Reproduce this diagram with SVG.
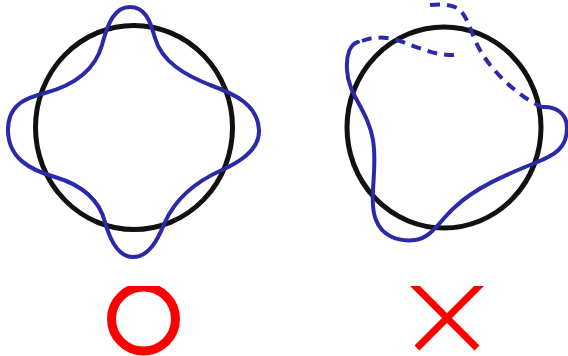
<svg xmlns="http://www.w3.org/2000/svg" width="568" height="356" viewBox="0 0 568 356">
  <defs>
    <style>
      .ring { fill: none; stroke: #111; stroke-width: 5; }
      .wave { fill: none; stroke: #2a2aa8; stroke-width: 4; stroke-linejoin: round; stroke-linecap: round; }
      .dash { fill: none; stroke: #2a2aa8; stroke-width: 4; stroke-dasharray: 10 7; }
      .mark { fill: none; stroke: #ff0000; }
    </style>
    <clipPath id="markClip">
      <rect x="0" y="286" width="568" height="70"/>
    </clipPath>
  </defs>
  <rect width="568" height="356" fill="#ffffff"/>

  <g id="good-figure">
    <ellipse class="ring" cx="134" cy="127.5" rx="98.5" ry="102"/>
    <path class="wave" d="M 130,7 C 145,7 150,20 155,38 C 162,62 185,75 210,85 C 235,94 258,105 259,130 C 260,150 240,162 222,170 C 195,182 175,200 165,222 C 157,242 148,257 133,257 C 118,257 110,240 105,222 C 98,195 75,183 55,177 C 30,170 8,158 8,130 C 8,105 25,98 45,93 C 75,85 95,70 102,45 C 108,22 115,7 130,7 Z"/>
  </g>

  <g id="bad-figure">
    <ellipse class="ring" cx="444" cy="127.5" rx="97" ry="100.5"/>
    <path class="wave" d="M 358,42 C 350,44 346,55 347,70 C 348,95 368,110 373,140 C 378,170 368,200 376,220 C 382,236 398,242 415,240 C 432,238 440,220 455,207 C 475,188 505,175 535,163 C 555,155 567,148 567,128 C 567,113 555,106 542,107"/>
    <path class="dash" d="M 430,5 C 440,4 453,4 460,10 C 470,20 472,40 485,58 C 500,80 525,100 542,107"/>
    <path class="dash" d="M 362,41 C 372,37 385,36 400,41 C 420,48 435,56 457,55"/>
  </g>

  <g id="mark-ok" clip-path="url(#markClip)">
    <circle class="mark" cx="143.5" cy="319" r="32" stroke-width="9"/>
  </g>

  <g id="mark-ng" clip-path="url(#markClip)">
    <line class="mark" x1="411" y1="282" x2="477" y2="348" stroke-width="7"/>
    <line class="mark" x1="483" y1="282" x2="417" y2="348" stroke-width="7"/>
  </g>
</svg>
